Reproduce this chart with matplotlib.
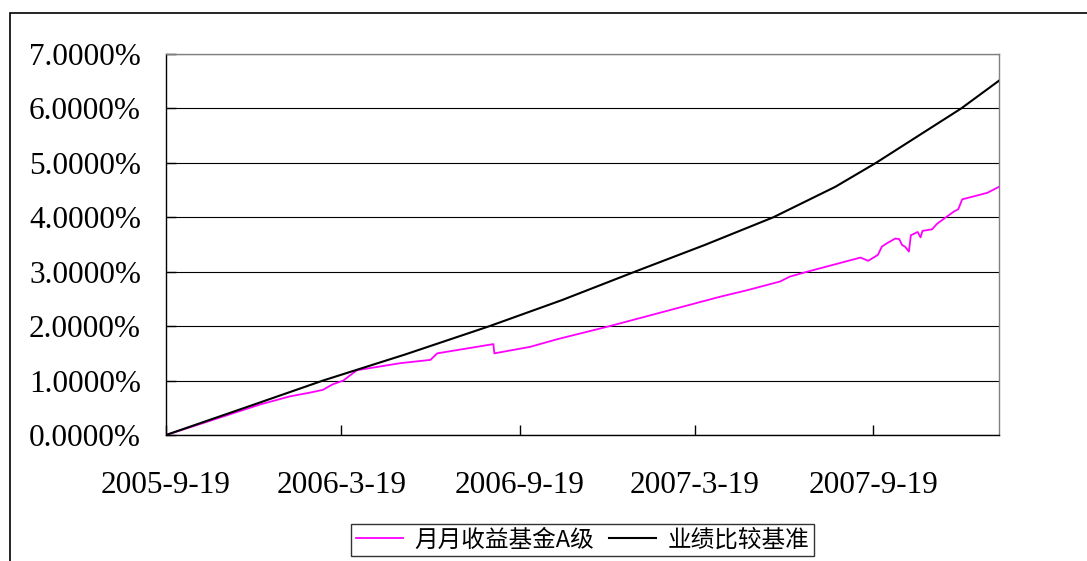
import matplotlib
matplotlib.use("Agg")
import matplotlib.pyplot as plt
import pandas as pd
from matplotlib.patches import Rectangle

# cumulative return (%) of the fund
FUND_DATES = [
    "2005-09-19", "2005-10-24", "2005-11-24", "2005-12-25", "2006-01-25",
    "2006-02-15", "2006-02-28", "2006-03-10", "2006-03-21", "2006-04-04",
    "2006-05-19", "2006-06-19", "2006-06-26", "2006-08-23", "2006-08-24",
    "2006-09-30", "2006-10-28", "2006-12-21", "2007-04-14", "2007-05-12",
    "2007-06-15", "2007-06-25", "2007-07-13", "2007-09-06", "2007-09-14",
    "2007-09-24", "2007-09-28", "2007-10-03", "2007-10-12", "2007-10-16",
    "2007-10-19", "2007-10-22", "2007-10-26", "2007-10-28", "2007-11-04",
    "2007-11-07", "2007-11-09", "2007-11-19", "2007-11-24", "2007-12-04",
    "2007-12-11", "2007-12-16", "2007-12-20", "2007-12-31", "2008-01-15",
    "2008-01-27",
]
FUND_VALUES = [
    0.00, 0.20, 0.38, 0.56, 0.71,
    0.78, 0.83, 0.93, 1.00, 1.19,
    1.32, 1.38, 1.50, 1.67, 1.50,
    1.62, 1.76, 2.00, 2.54, 2.66,
    2.82, 2.91, 3.00, 3.26, 3.20,
    3.31, 3.46, 3.52, 3.61, 3.60,
    3.49, 3.46, 3.37, 3.67, 3.73,
    3.63, 3.75, 3.78, 3.88, 4.01,
    4.10, 4.15, 4.33, 4.38, 4.45,
    4.56,
]

# cumulative benchmark return (%)
BENCH_DATES = [
    "2005-09-19", "2005-12-19", "2006-02-28", "2006-05-24", "2006-08-19",
    "2006-11-02", "2007-01-16", "2007-03-29", "2007-06-08", "2007-08-11",
    "2007-09-22", "2007-11-05", "2007-12-19", "2008-01-27",
]
BENCH_VALUES = [
    0.00, 0.56, 1.00, 1.48, 2.00,
    2.48, 3.00, 3.49, 4.00, 4.56,
    5.00, 5.50, 6.00, 6.51,
]

SERIES_NAMES = ["月月收益基金A级", "业绩比较基准"]
TICK_DATES = ["2005-09-19", "2006-03-19", "2006-09-19", "2007-03-19", "2007-09-19"]
TICK_LABELS = ["2005-9-19", "2006-3-19", "2006-9-19", "2007-3-19", "2007-9-19"]
Y_TICKS = [0, 1, 2, 3, 4, 5, 6, 7]

fig = plt.figure(figsize=(10.87, 5.61), dpi=100)
fig.patch.set_facecolor("white")

# outer chart frame (runs past the right and bottom edges)
fig.add_artist(Rectangle((10 / 1087, -0.2), 1.2, 1.2 - 13 / 561,
                         transform=fig.transFigure, fill=False,
                         edgecolor="#000000", linewidth=1.2, clip_on=False))

ax = fig.add_axes([166 / 1087, 1 - 435 / 561, 833 / 1087, 381 / 561])

fund_x = pd.to_datetime(FUND_DATES)
bench_x = pd.to_datetime(BENCH_DATES)
ax.plot(fund_x, FUND_VALUES, color="#FF00FF", linewidth=1.3, label=SERIES_NAMES[0], zorder=3)
ax.plot(bench_x, BENCH_VALUES, color="#000000", linewidth=1.5, label=SERIES_NAMES[1], zorder=4)

ax.set_xlim(pd.Timestamp("2005-09-19"), pd.Timestamp("2008-01-27"))
ax.set_ylim(0, 7)
ax.set_yticks(Y_TICKS)
ax.set_yticklabels([f"{v:.4f}%" for v in Y_TICKS])
ax.set_xticks(pd.to_datetime(TICK_DATES))
ax.set_xticklabels(TICK_LABELS)
ax.yaxis.grid(True, color="#000000", linewidth=0.8)
ax.set_axisbelow(True)

for side in ("top", "right"):
    ax.spines[side].set_color("#808080")
    ax.spines[side].set_linewidth(1.0)
for side in ("left", "bottom"):
    ax.spines[side].set_color("#000000")
    ax.spines[side].set_linewidth(1.0)

for lab in ax.get_xticklabels() + ax.get_yticklabels():
    lab.set_fontfamily("Liberation Serif")
    lab.set_fontsize(22.5)
ax.tick_params(axis="y", direction="in", length=7, width=1.0, pad=18)
ax.tick_params(axis="x", direction="in", length=7, width=1.0, pad=26)

leg = fig.legend(
    loc="upper left",
    bbox_to_anchor=(351 / 1087, 1 - 524 / 561),
    ncol=2,
    frameon=True,
    fancybox=False,
    prop={"family": ["Noto Sans CJK SC", "DejaVu Sans"], "size": 17},
    handlelength=2.0,
    handletextpad=0.5,
    columnspacing=0.6,
    borderpad=0.2,
    borderaxespad=0,
)
leg.get_frame().set_edgecolor("#000000")
leg.get_frame().set_linewidth(1.0)

fig.savefig("out.png", dpi=100)
